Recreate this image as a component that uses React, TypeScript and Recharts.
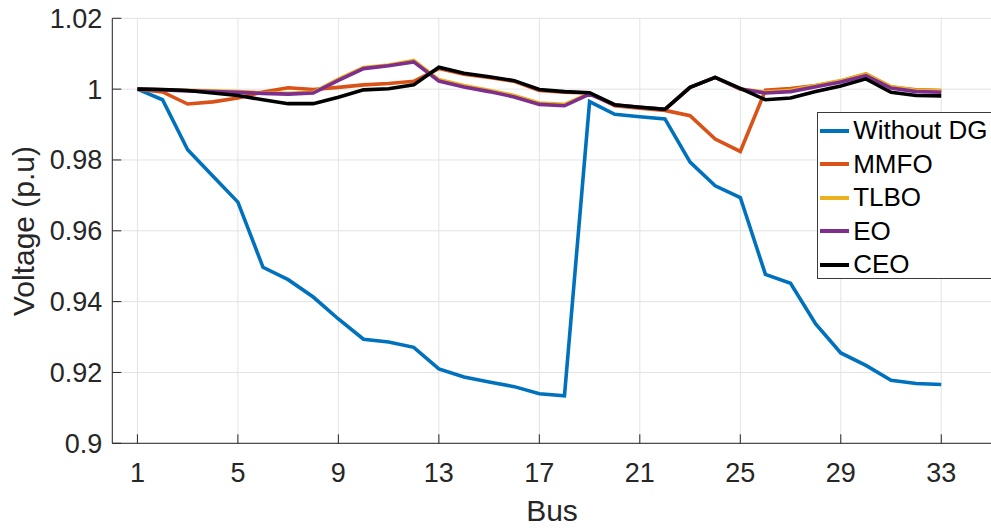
import React from 'react';
import {
  LineChart,
  Line,
  XAxis,
  YAxis,
  CartesianGrid,
  Legend,
  Label,
} from 'recharts';

// Bus numbers of the 33-bus feeder
const buses = Array.from({ length: 33 }, (_, i) => i + 1);

// Bus voltages (p.u) per case
const withoutDG = [
  1.0, 0.997, 0.9829, 0.9755, 0.9681, 0.9497, 0.9462, 0.9413, 0.9351, 0.9294, 0.9286,
  0.9271, 0.921, 0.9187, 0.9173, 0.916, 0.914, 0.9134, 0.9965, 0.9929, 0.9922, 0.9916,
  0.9794, 0.9727, 0.9694, 0.9477, 0.9452, 0.9337, 0.9255, 0.922, 0.9178, 0.9169, 0.9166,
];
const mmfo = [
  1.0, 0.9992, 0.9958, 0.9964, 0.9975, 0.9992, 1.0004, 0.9999, 1.0005, 1.0012, 1.0016,
  1.0022, 1.0058, 1.0042, 1.0033, 1.0022, 0.9996, 0.9991, 0.9989, 0.9953, 0.9946, 0.994,
  0.9925, 0.9859, 0.9824, 0.9997, 1.0002, 1.001, 1.0023, 1.0043, 1.0006, 0.9998, 0.9996,
];
const tlbo = [
  1.0, 0.9998, 0.9997, 0.9995, 0.9993, 0.999, 0.9988, 0.9991, 1.0028, 1.0061, 1.0068,
  1.0081, 1.0027, 1.001, 0.9997, 0.9982, 0.9961, 0.9957, 0.9988, 0.9955, 0.9949, 0.9943,
  1.0005, 1.0033, 1.0, 0.9992, 0.9997, 1.001, 1.0024, 1.0043, 1.0007, 0.9997, 0.9995,
];
const eo = [
  1.0, 0.9998, 0.9995, 0.9993, 0.9991, 0.9988, 0.9986, 0.9989, 1.0025, 1.0058, 1.0066,
  1.0077, 1.0023, 1.0006, 0.9993, 0.9978, 0.9957, 0.9953, 0.9986, 0.9955, 0.9949, 0.9943,
  1.0005, 1.0033, 1.0, 0.9989, 0.9993, 1.0007, 1.002, 1.0038, 1.0003, 0.9993, 0.9991,
];
const ceo = [
  1.0, 0.9999, 0.9996, 0.9989, 0.9982, 0.997, 0.9959, 0.9959, 0.9977, 0.9998, 1.0001,
  1.0012, 1.0062, 1.0045, 1.0035, 1.0024, 0.9999, 0.9993, 0.999, 0.9956, 0.9949, 0.9943,
  1.0005, 1.0033, 1.0002, 0.997, 0.9975, 0.9993, 1.0009, 1.0029, 0.9991, 0.9982, 0.9981,
];

const xTicks = [1, 5, 9, 13, 17, 21, 25, 29, 33];
const yTicks = [0.9, 0.92, 0.94, 0.96, 0.98, 1.0, 1.02];
const yTickLabels = ['0.9', '0.92', '0.94', '0.96', '0.98', '1', '1.02'];

const series = [
  { key: 'withoutDG', name: 'Without DG', color: '#0072BD', values: withoutDG },
  { key: 'mmfo', name: 'MMFO', color: '#D95319', values: mmfo },
  { key: 'tlbo', name: 'TLBO', color: '#EDB120', values: tlbo },
  { key: 'eo', name: 'EO', color: '#7E2F8E', values: eo },
  { key: 'ceo', name: 'CEO', color: '#000000', values: ceo },
];
const seriesNames = series.map((s) => s.name);

const data = buses.map((bus, i) => {
  const row: Record<string, number> = { bus };
  series.forEach((s) => {
    row[s.key] = s.values[i];
  });
  return row;
});

const FONT = '"Liberation Sans", Arial, Helvetica, sans-serif';
const AXIS = '#262626';
const TICK_LEN = 9;

const BottomTick = (props: any) => {
  const { x, y, payload } = props;
  return (
    <g>
      <line x1={x} x2={x} y1={y} y2={y - TICK_LEN} stroke={AXIS} strokeWidth={1} />
      <text x={x} y={y + 39} textAnchor="middle" fill={AXIS} fontSize={27} fontFamily={FONT}>
        {payload.value}
      </text>
    </g>
  );
};

const TopTick = (props: any) => {
  const { x, y } = props;
  return <line x1={x} x2={x} y1={y} y2={y + TICK_LEN} stroke={AXIS} strokeWidth={1} />;
};

const LeftTick = (props: any) => {
  const { x, y, payload, index } = props;
  return (
    <g>
      <line x1={x} x2={x + TICK_LEN} y1={y} y2={y} stroke={AXIS} strokeWidth={1} />
      <text x={x - 10} y={y + 9.5} textAnchor="end" fill={AXIS} fontSize={27} fontFamily={FONT}>
        {yTickLabels[index] ?? payload.value}
      </text>
    </g>
  );
};

// legend entries kept in plotting order
const LegendBox = (props: any) => {
  const items = [...(props.payload || [])].sort(
    (a: any, b: any) => seriesNames.indexOf(a.value) - seriesNames.indexOf(b.value),
  );
  return (
    <div
      style={{
        width: 190,
        height: 167,
        boxSizing: 'border-box',
        border: '1px solid #3a3a3a',
        background: '#fff',
        paddingTop: 1.5,
        fontFamily: FONT,
      }}
    >
      {items.map((entry: any) => (
        <div
          key={entry.value}
          style={{ display: 'flex', alignItems: 'center', height: 33.5, whiteSpace: 'nowrap' }}
        >
          <span
            style={{
              display: 'inline-block',
              marginLeft: 2.5,
              width: 29,
              height: 4,
              background: entry.color,
            }}
          />
          <span style={{ marginLeft: 4, fontSize: 26, color: '#000', lineHeight: '33.5px' }}>
            {entry.value}
          </span>
        </div>
      ))}
    </div>
  );
};

export default function App() {
  return (
    <div
      style={{
        position: 'absolute',
        left: 0,
        top: 0,
        width: 991,
        height: 530,
        overflow: 'hidden',
        background: '#fff',
      }}
    >
      <LineChart
        width={992}
        height={530}
        data={data}
        margin={{ top: 18.3, right: 0.5, bottom: 26.7, left: 0 }}
      >
        <CartesianGrid stroke="#e3e3e3" strokeWidth={1} />
        <XAxis
          dataKey="bus"
          type="number"
          domain={[0, 35]}
          ticks={xTicks}
          allowDataOverflow
          height={60}
          tickSize={0}
          tickMargin={0}
          tickLine={false}
          axisLine={{ stroke: AXIS, strokeWidth: 1 }}
          tick={<BottomTick />}
          interval={0}
        >
          <Label
            content={() => (
              <text x={552} y={521} textAnchor="middle" fill={AXIS} fontSize={30} fontFamily={FONT}>
                Bus
              </text>
            )}
          />
        </XAxis>
        <XAxis
          xAxisId="top"
          orientation="top"
          dataKey="bus"
          type="number"
          domain={[0, 35]}
          ticks={xTicks}
          allowDataOverflow
          height={0}
          tickSize={0}
          tickMargin={0}
          tickLine={false}
          axisLine={{ stroke: AXIS, strokeWidth: 1 }}
          tick={<TopTick />}
          interval={0}
        />
        <YAxis
          type="number"
          domain={[0.9, 1.02]}
          ticks={yTicks}
          allowDataOverflow
          width={112.3}
          tickSize={0}
          tickMargin={0}
          tickLine={false}
          axisLine={{ stroke: AXIS, strokeWidth: 1 }}
          tick={<LeftTick />}
          interval={0}
        >
          <Label
            content={() => (
              <text
                x={34}
                y={231}
                transform="rotate(-90 34 231)"
                textAnchor="middle"
                fill={AXIS}
                fontSize={30}
                fontFamily={FONT}
              >
                Voltage (p.u)
              </text>
            )}
          />
        </YAxis>
        <Legend
          layout="vertical"
          align="center"
          verticalAlign="middle"
          content={<LegendBox />}
          wrapperStyle={{ left: 816.7, top: 111.7, width: 190, height: 167 }}
        />
        {series.map((s) => (
          <Line
            key={s.key}
            type="linear"
            dataKey={s.key}
            name={s.name}
            stroke={s.color}
            strokeWidth={3.6}
            dot={false}
            activeDot={false}
            isAnimationActive={false}
          />
        ))}
      </LineChart>
    </div>
  );
}
